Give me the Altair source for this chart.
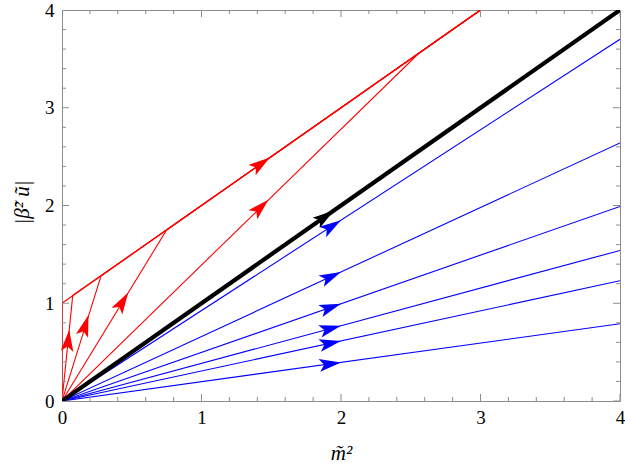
import math
import altair as alt
import pandas as pd

# ---------------- data ----------------
# blue trajectories from the origin: y reached at x = 4
blue_end_x = 4.0
blue_end_y = [3.70, 2.64, 1.99, 1.54, 1.23, 0.79]
# blue arrow tips (x = 2)
blue_tip_x = [2.0, 2.0, 2.0, 2.0, 2.0, 2.0]
blue_tip_y = [1.85, 1.32, 0.995, 0.77, 0.615, 0.395]

# red trajectories: origin -> kink on the upper line -> (3, 4)
red_kink_x = [0.0, 0.077, 0.28, 0.75, 2.56]
red_kink_y = [1.0, 1.08, 1.28, 1.75, 3.56]
red_end_x, red_end_y = 3.0, 4.0
# red arrow tips (first segment of lines 1..4, then one on the upper line)
red_tip_x = [0.052, 0.19, 0.475, 1.48, 1.49]
red_tip_y = [0.73, 0.88, 1.11, 2.06, 2.49]

# black separatrix
black_x = [0.0, 4.0]
black_y = [0.0, 4.0]
black_tip = (1.95, 1.95)

major_ticks = [0, 1, 2, 3, 4]
minor_ticks = [0.2, 0.4, 0.6, 0.8, 1.2, 1.4, 1.6, 1.8, 2.2, 2.4, 2.6, 2.8,
               3.2, 3.4, 3.6, 3.8]

# ---------------- layout / styling ----------------
W, H = 558, 391
KX, KY = W / 4.0, H / 4.0
RED, BLUE, BLACK = "#ff0000", "#0000ff", "#000000"
FRAME = "#8c8c8c"
FONT = "Liberation Serif"
FS = 19
TFS = 21
ARROW = "M0,0 L-1,-0.29 L-0.78,0 L-1,0.29 Z"

# ---------------- tables ----------------
rows = []
for i, ey in enumerate(blue_end_y):
    rows.append(dict(id=f"b{i}", k=0, x=0.0, y=0.0, color=BLUE))
    rows.append(dict(id=f"b{i}", k=1, x=blue_end_x, y=ey, color=BLUE))
for i, (kx, ky) in enumerate(zip(red_kink_x, red_kink_y)):
    rows.append(dict(id=f"r{i}", k=0, x=0.0, y=0.0, color=RED))
    rows.append(dict(id=f"r{i}", k=1, x=kx, y=ky, color=RED))
    rows.append(dict(id=f"r{i}", k=2, x=red_end_x, y=red_end_y, color=RED))
thin_df = pd.DataFrame(rows)
black_df = pd.DataFrame({"x": black_x, "y": black_y, "k": [0, 1]})


def screen_angle(dx, dy):
    a = math.degrees(math.atan2(dy * KY, dx * KX))
    return (360.0 - a) % 360.0


arrows = []
for tx, ty, ey in zip(blue_tip_x, blue_tip_y, blue_end_y):
    arrows.append(dict(x=tx, y=ty, ang=screen_angle(blue_end_x, ey), color=BLUE))
for j, (tx, ty) in enumerate(zip(red_tip_x, red_tip_y)):
    if j < 4:
        d = (red_kink_x[j + 1], red_kink_y[j + 1])
    else:
        d = (red_end_x - red_kink_x[0], red_end_y - red_kink_y[0])
    arrows.append(dict(x=tx, y=ty, ang=screen_angle(*d), color=RED))
arrows.append(dict(x=black_tip[0], y=black_tip[1],
                   ang=screen_angle(black_x[1], black_y[1]), color=BLACK))
arrow_df = pd.DataFrame(arrows)

ticks_df = pd.DataFrame({
    "v": major_ticks + minor_ticks,
    "len": [14] * len(major_ticks) + [8] * len(minor_ticks),
})

# ---------------- chart ----------------
xs = alt.Scale(domain=[0, 4], nice=False, zero=False)
ys = alt.Scale(domain=[0, 4], nice=False, zero=False)

common = dict(values=major_ticks, format="d", ticks=False, domain=False,
              grid=False, labelFont=FONT, labelFontSize=FS,
              labelColor="black", titleFont=FONT, titleFontSize=TFS,
              titleFontWeight="normal", titleColor="black",
              titleFontStyle="italic", labelFlush=False, labelOverlap=False)
xaxis = alt.Axis(labelPadding=7, title="m̃²", titleX=W / 2, titleY=58,
                 titleAlign="center", titleBaseline="alphabetic", **common)
yaxis = alt.Axis(labelPadding=8, title="|β̃² ũ|", titleAngle=270,
                 titleX=-40, titleY=192, titleAlign="center",
                 titleBaseline="middle", **common)

thin = alt.Chart(thin_df).mark_line(clip=True, strokeWidth=1.1).encode(
    x=alt.X("x:Q", scale=xs, axis=xaxis),
    y=alt.Y("y:Q", scale=ys, axis=yaxis),
    color=alt.Color("color:N", scale=None),
    detail="id:N",
    order="k:Q",
)

tick_layers = []
for side in ["bottom", "top", "left", "right"]:
    base = alt.Chart(ticks_df)
    if side in ("bottom", "top"):
        layer = base.mark_tick(orient="vertical", clip=True, color=FRAME,
                               thickness=1, opacity=1).encode(
            x=alt.X("v:Q", scale=xs, axis=xaxis),
            y=alt.YDatum(0 if side == "bottom" else 4, scale=ys, axis=yaxis),
            size=alt.Size("len:Q", scale=None),
        )
    else:
        layer = base.mark_tick(orient="horizontal", clip=True, color=FRAME,
                               thickness=1, opacity=1).encode(
            y=alt.Y("v:Q", scale=ys, axis=yaxis),
            x=alt.XDatum(0 if side == "left" else 4, scale=xs, axis=xaxis),
            size=alt.Size("len:Q", scale=None),
        )
    tick_layers.append(layer)

black = alt.Chart(black_df).mark_line(clip=True, strokeWidth=4.2,
                                      color=BLACK).encode(
    x=alt.X("x:Q", scale=xs, axis=xaxis),
    y=alt.Y("y:Q", scale=ys, axis=yaxis),
    order="k:Q",
)

heads = alt.Chart(arrow_df).mark_point(shape=ARROW, filled=True, size=1900,
                                       opacity=1, strokeWidth=0).encode(
    x=alt.X("x:Q", scale=xs, axis=xaxis),
    y=alt.Y("y:Q", scale=ys, axis=yaxis),
    angle=alt.Angle("ang:Q", scale=None),
    color=alt.Color("color:N", scale=None),
)

chart = alt.layer(thin, *tick_layers, black, heads).properties(
    width=W, height=H,
    autosize=alt.AutoSizeParams(type="none"),
    padding={"left": 62, "top": 10, "right": 5, "bottom": 65},
    background="white",
).configure_view(
    stroke=FRAME, strokeWidth=1,
).configure_axis(
    labelFont=FONT, labelFontSize=FS, labelColor="black",
    titleFont=FONT, titleFontSize=TFS, titleFontWeight="normal",
    titleColor="black",
)

chart.save("out.html", embed_options={"renderer": "svg", "actions": False})
